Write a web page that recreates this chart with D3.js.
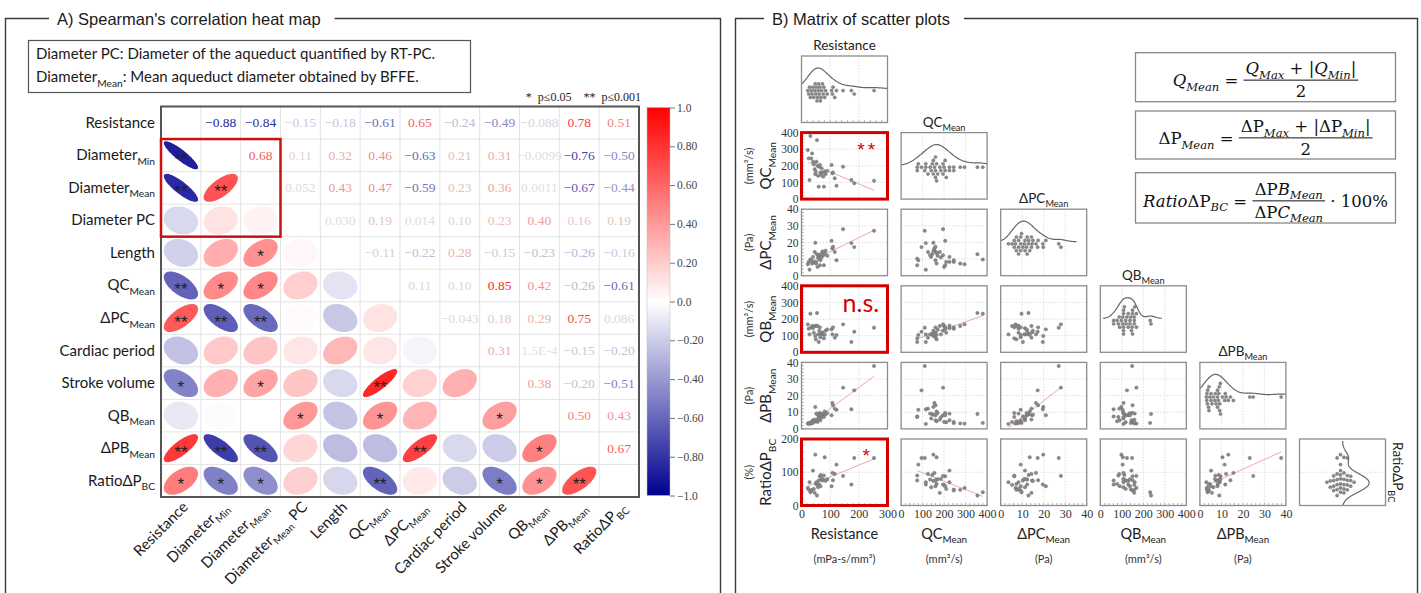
<!DOCTYPE html>
<html>
<head>
<meta charset="utf-8">
<script src="https://cdn.jsdelivr.net/npm/d3@7/dist/d3.min.js"></script>
<style>
  html, body { margin: 0; padding: 0; background: #fff; }
  svg { display: block; }
</style>
</head>
<body>
<svg id="fig" width="1421" height="593"></svg>
<script>
// ===================== Correlation heat map data =====================
// label parts: [main text, subscript, trailing text]
const heatRowLabels = [
  ["Resistance"], ["Diameter", "Min"], ["Diameter", "Mean"], ["Diameter PC"], ["Length"],
  ["QC", "Mean"], ["ΔPC", "Mean"], ["Cardiac period"], ["Stroke volume"],
  ["QB", "Mean"], ["ΔPB", "Mean"], ["RatioΔP", "BC"]
];
const heatColLabels = [
  ["Resistance"], ["Diameter", "Min"], ["Diameter", "Mean"], ["Diameter", "Mean", " PC"], ["Length"],
  ["QC", "Mean"], ["ΔPC", "Mean"], ["Cardiac period"], ["Stroke volume"],
  ["QB", "Mean"], ["ΔPB", "Mean"], ["RatioΔP", "BC"]
];
// Spearman's rho, upper triangle: row i holds columns i+1 … 11
const rhoUpper = [
  [-0.88, -0.84, -0.15, -0.18, -0.61, 0.65, -0.24, -0.49, -0.088, 0.78, 0.51],
  [0.68, 0.11, 0.32, 0.46, -0.63, 0.21, 0.31, -0.0099, -0.76, -0.50],
  [0.052, 0.43, 0.47, -0.59, 0.23, 0.36, 0.0011, -0.67, -0.44],
  [0.030, 0.19, 0.014, 0.10, 0.23, 0.40, 0.16, 0.19],
  [-0.11, -0.22, 0.28, -0.15, -0.23, -0.26, -0.16],
  [0.11, 0.10, 0.85, 0.42, -0.26, -0.61],
  [-0.043, 0.18, 0.29, 0.75, 0.086],
  [0.31, 1.5e-4, -0.15, -0.20],
  [0.38, -0.20, -0.51],
  [0.50, 0.43],
  [0.67]
];
// significance marks, lower triangle: row i holds columns 0 … i-1
const sigLower = [
  [],
  ["**"],
  ["**", "**"],
  ["", "", ""],
  ["", "", "*", ""],
  ["**", "*", "*", "", ""],
  ["**", "**", "**", "", "", ""],
  ["", "", "", "", "", "", ""],
  ["*", "", "*", "", "", "**", "", ""],
  ["", "", "", "*", "", "*", "", "", "*"],
  ["**", "**", "**", "", "", "", "**", "", "", "*"],
  ["*", "*", "*", "", "", "**", "", "", "*", "*", "**"]
];
const colorbarTicks = [1, 0.8, 0.6, 0.4, 0.2, 0, -0.2, -0.4, -0.6, -0.8, -1];

// ===================== Scatter matrix data (one entry per subject) =====================
const resistance = [22, 25, 28, 31, 34, 37, 40, 43, 46, 48, 50, 52, 54, 56, 58, 60, 62, 64, 66, 68,
  70, 73, 76, 78, 81, 84, 90, 105, 108, 110, 116, 122, 145, 174, 184, 253];
const qcMean = [295, 245, 115, 380, 245, 275, 225, 210, 180, 150, 165, 225, 355, 200, 140, 75, 195, 205, 160, 145,
  185, 160, 135, 75, 165, 150, 170, 205, 155, 160, 125, 80, 195, 115, 95, 110];
const dpcMean = [6.9, 8.3, 3.6, 9.7, 9.3, 7.3, 11.3, 8.3, 14.3, 19.8, 7.3, 8.3, 12.9, 5.3, 11.3, 10.3, 12.3, 6.3, 9.3, 13.0,
  11.0, 14.6, 12.3, 6.3, 13.5, 15.0, 12.0, 21.0, 16.4, 17.4, 14.3, 9.3, 28.0, 19.6, 17.2, 27.0];
const qbMean = [168, 142, 108, 232, 150, 158, 145, 118, 158, 98, 78, 160, 236, 158, 108, 62, 130, 150, 90, 112,
  108, 120, 108, 84, 105, 130, 138, 138, 108, 150, 88, 104, 168, 62, 124, 148];
const dpbMean = [3.2, 3.5, 3.0, 3.6, 4.2, 3.3, 5.2, 4.0, 5.6, 13.2, 4.6, 9.2, 9.0, 4.2, 6.3, 7.5, 8.2, 9.6, 5.2, 8.8,
  7.0, 8.2, 9.2, 7.2, 10.5, 8.6, 9.5, 8.2, 15.6, 14.2, 12.2, 11.5, 24.8, 11.8, 23.2, 37.8];
const ratioDpBC = [53, 48, 70, 40, 45, 47, 105, 50, 38, 153, 65, 70, 30, 62, 55, 75, 63, 88, 58, 92,
  80, 75, 78, 90, 145, 74, 79, 58, 98, 76, 95, 123, 89, 63, 143, 143];

const smSeries = [resistance, qcMean, dpcMean, qbMean, dpbMean, ratioDpBC];
const smLabels = [["Resistance"], ["QC", "Mean"], ["ΔPC", "Mean"], ["QB", "Mean"], ["ΔPB", "Mean"], ["RatioΔP", "BC"]];
const smUnits = ["(mPa-s/mm³)", "(mm³/s)", "(Pa)", "(mm³/s)", "(Pa)", "(%)"];
const smDomains = [[0, 300], [0, 400], [0, 40], [0, 400], [0, 40], [0, 200]];
const smTicks = [[0, 100, 200, 300], [0, 100, 200, 300, 400], [0, 10, 20, 30, 40],
  [0, 100, 200, 300, 400], [0, 10, 20, 30, 40], [0, 100, 200]];
const fitPairs = [[1, 0], [2, 0], [3, 1], [4, 0], [4, 2], [5, 0], [5, 1], [5, 4]];
const highlightPanels = [[1, 0], [3, 0], [5, 0]];
const panelNotes = [["**", 1, 0], ["n.s.", 3, 0], ["*", 5, 0]];

// ===================== helpers =====================
const svg = d3.select("#fig");
const SANS = "Lato, 'Open Sans', sans-serif";
const SERIF = "'Liberation Serif', 'DejaVu Serif', serif";
const MATH = "'DejaVu Serif', 'Liberation Serif', serif";
const ARIAL = "'Liberation Sans', Arial, sans-serif";

function addRich(textSel, parts, size) {
  const sub = size * 0.68, shift = size * 0.3;
  textSel.append("tspan").text(parts[0]);
  if (parts[1]) textSel.append("tspan").attr("font-size", sub).attr("dy", shift).text(parts[1]);
  if (parts[2]) textSel.append("tspan").attr("font-size", size).attr("dy", -shift).text(parts[2]);
  return textSel;
}

function frame(x0, x1, y, tx, title) {
  const t = svg.append("text").attr("x", tx).attr("y", y + 6)
    .attr("font-family", ARIAL).attr("font-size", 16.5).attr("fill", "#1a1a1a").text(title);
  const bb = t.node().getBBox();
  svg.append("path")
    .attr("d", `M${bb.x - 8},${y}H${x0}V600M${bb.x + bb.width + 14},${y}H${x1}V600`)
    .attr("fill", "none").attr("stroke", "#3a3a3a").attr("stroke-width", 1.4);
}
frame(5.5, 720.5, 18.5, 57, "A) Spearman's correlation heat map");
frame(735.5, 1417.5, 18.5, 772, "B) Matrix of scatter plots");

// ===================== A) heat map =====================
svg.append("rect").attr("x", 28.5).attr("y", 40.5).attr("width", 442).attr("height", 52)
  .attr("fill", "none").attr("stroke", "#555").attr("stroke-width", 1.2);
svg.append("text").attr("x", 36).attr("y", 59).attr("font-family", SANS).attr("font-size", 15)
  .attr("fill", "#1a1a1a").text("Diameter PC: Diameter of the aqueduct quantified by RT-PC.");
addRich(svg.append("text").attr("x", 36).attr("y", 82).attr("font-family", SANS).attr("font-size", 15)
  .attr("fill", "#1a1a1a"), ["Diameter", "Mean", ": Mean aqueduct diameter obtained by BFFE."], 15);

const nVar = heatRowLabels.length;
const rho = d3.range(nVar).map(i => d3.range(nVar).map(j =>
  i === j ? 1 : (i < j ? rhoUpper[i][j - i - 1] : rhoUpper[j][i - j - 1])));

const hx = d3.scaleBand().domain(d3.range(nVar)).range([161, 639]);
const hy = d3.scaleBand().domain(d3.range(nVar)).range([106.5, 497]);
const cw = hx.bandwidth(), ch = hy.bandwidth();
const rhoColor = d3.scaleLinear().domain([-1, 0, 1]).range(["#00008f", "#ffffff", "#ff0000"]);
const textColor = r => d3.interpolateRgb(rhoColor(r), "#a6a6a6")(0.35 * (1 - Math.abs(r)));
const fmtRho = v => Math.abs(v) < 0.001 ? v.toExponential(1).toUpperCase() : d3.format(".2r")(v);

const heat = svg.append("g");
// cell grid
heat.append("g").selectAll("line.v").data(d3.range(1, nVar)).join("line")
  .attr("x1", d => hx(d)).attr("x2", d => hx(d)).attr("y1", hy(0)).attr("y2", hy(nVar - 1) + ch)
  .attr("stroke", "#e3e3e3").attr("stroke-width", 1);
heat.append("g").selectAll("line.h").data(d3.range(1, nVar)).join("line")
  .attr("y1", d => hy(d)).attr("y2", d => hy(d)).attr("x1", hx(0)).attr("x2", hx(nVar - 1) + cw)
  .attr("stroke", "#e3e3e3").attr("stroke-width", 1);

const cells = [];
for (let i = 0; i < nVar; i++) for (let j = 0; j < nVar; j++) if (i !== j) cells.push({ i, j, r: rho[i][j] });

// upper triangle: coefficient values
heat.append("g").selectAll("text").data(cells.filter(c => c.i < c.j)).join("text")
  .attr("x", c => hx(c.j) + cw / 2).attr("y", c => hy(c.i) + ch / 2 + 4.5)
  .attr("text-anchor", "middle").attr("font-family", SERIF).attr("font-size", 13.5)
  .attr("fill", c => textColor(c.r)).text(c => fmtRho(c.r));

// lower triangle: ellipses
const ellipseLine = d3.line().curve(d3.curveLinearClosed);
function ellipsePoints(r, cx, cy, rx, ry) {
  const d = Math.acos(Math.max(-1, Math.min(1, r)));
  return d3.range(80).map(k => {
    const t = k / 80 * 2 * Math.PI;
    return [cx + rx * Math.cos(t + d / 2), cy - ry * Math.cos(t - d / 2)];
  });
}
const lower = cells.filter(c => c.i > c.j);
heat.append("g").selectAll("path").data(lower).join("path")
  .attr("d", c => ellipseLine(ellipsePoints(c.r, hx(c.j) + cw / 2, hy(c.i) + ch / 2, cw * 0.43, ch * 0.43)))
  .attr("fill", c => rhoColor(c.r));
heat.append("g").selectAll("text").data(lower.filter(c => sigLower[c.i][c.j])).join("text")
  .attr("x", c => hx(c.j) + cw / 2).attr("y", c => hy(c.i) + ch / 2 + 9.5)
  .attr("text-anchor", "middle").attr("font-family", ARIAL).attr("font-size", 17)
  .attr("fill", "#222").text(c => sigLower[c.i][c.j]);

// outer border and highlighted block
heat.append("rect").attr("x", hx(0)).attr("y", hy(0)).attr("width", cw * nVar).attr("height", ch * nVar)
  .attr("fill", "none").attr("stroke", "#555").attr("stroke-width", 2);
heat.append("rect").attr("x", hx(0)).attr("y", hy(1)).attr("width", cw * 3).attr("height", ch * 3)
  .attr("fill", "none").attr("stroke", "#cc1111").attr("stroke-width", 2.5);

// row labels
heat.append("g").selectAll("text").data(heatRowLabels).join("text")
  .attr("x", 155).attr("y", (d, i) => hy(i) + ch / 2 + 5)
  .attr("text-anchor", "end").attr("font-family", SANS).attr("font-size", 15).attr("fill", "#1a1a1a")
  .each(function (d) { addRich(d3.select(this), d, 15); });
// column labels
heat.append("g").selectAll("text").data(heatColLabels).join("text")
  .attr("transform", (d, i) => `translate(${hx(i) + cw / 2 + 8},${508}) rotate(-45)`)
  .attr("text-anchor", "end").attr("font-family", SANS).attr("font-size", 15).attr("fill", "#1a1a1a")
  .each(function (d) { addRich(d3.select(this), d, 15); });

// significance legend
svg.append("text").attr("x", 641).attr("y", 101).attr("text-anchor", "end")
  .attr("font-family", SERIF).attr("font-size", 12).attr("fill", "#222").style("white-space", "pre")
  .text("*  p≤0.05    **  p≤0.001");

// colour bar
const cbY = d3.scaleLinear().domain([-1, 1]).range([495.5, 107.5]);
const grad = svg.append("defs").append("linearGradient").attr("id", "rhoGrad")
  .attr("x1", 0).attr("y1", 1).attr("x2", 0).attr("y2", 0);
grad.selectAll("stop").data(d3.range(-1, 1.0001, 0.1)).join("stop")
  .attr("offset", d => (d + 1) / 2).attr("stop-color", d => rhoColor(d));
svg.append("rect").attr("x", 647).attr("y", cbY(1)).attr("width", 23).attr("height", cbY(-1) - cbY(1))
  .attr("fill", "url(#rhoGrad)").attr("stroke", "#bbb").attr("stroke-width", 0.5);
const cbAxis = svg.append("g").attr("transform", "translate(670,0)")
  .call(d3.axisRight(cbY).tickValues(colorbarTicks).tickSize(5).tickPadding(2)
    .tickFormat(v => (v === 0 || Math.abs(v) === 1) ? d3.format(".1f")(v) : d3.format(".2f")(v)));
cbAxis.select(".domain").remove();
cbAxis.selectAll("line").attr("stroke", "#777");
cbAxis.selectAll("text").attr("font-family", SERIF).attr("font-size", 11.5).attr("fill", "#444");

// ===================== B) scatter matrix =====================
const P = { x0: 801.5, dx: 99.6, y0: 56, dy: 76.6, w: 86, h: 66.5 };
const nSm = smSeries.length;
const isHighlighted = (i, j) => highlightPanels.some(p => p[0] === i && p[1] === j);
const hasFit = (i, j) => fitPairs.some(p => p[0] === i && p[1] === j);

function swarm(values, pos, step) {
  const pts = values.map(v => ({ v, p: pos(v) })).sort((a, b) => a.p - b.p);
  const placed = [];
  pts.forEach(pt => {
    for (let k = 0; k < 200; k++) {
      const off = k === 0 ? 0 : (k % 2 === 1 ? 1 : -1) * Math.ceil(k / 2) * step;
      const clash = placed.some(q => (q.p - pt.p) ** 2 + (q.off - off) ** 2 < step * step * 0.98);
      if (!clash) { pt.off = off; placed.push(pt); break; }
    }
  });
  return placed;
}
function kde(values, bw, grid) {
  return grid.map(x => [x, d3.mean(values, v => Math.exp(-0.5 * ((x - v) / bw) ** 2)) / bw]);
}

for (let i = 0; i < nSm; i++) {
  for (let j = 0; j <= i; j++) {
    const left = P.x0 + j * P.dx, top = P.y0 + i * P.dy;
    const x = d3.scaleLinear().domain(smDomains[j]).range([left, left + P.w]);
    const y = d3.scaleLinear().domain(smDomains[i]).range([top + P.h, top]);
    const g = svg.append("g");
    const grid = g.append("g").attr("stroke", "#d6d6d6").attr("stroke-width", 0.8).attr("stroke-dasharray", "1.5,1.5");
    if (i !== j || i < nSm - 1) {
      grid.selectAll("line.gx").data(smTicks[j].slice(1, -1)).join("line")
        .attr("x1", d => x(d)).attr("x2", d => x(d)).attr("y1", top).attr("y2", top + P.h);
    }
    if (i !== j || i === nSm - 1) {
      grid.selectAll("line.gy").data(smTicks[i].slice(1, -1)).join("line")
        .attr("y1", d => y(d)).attr("y2", d => y(d)).attr("x1", left).attr("x2", left + P.w);
    }

    if (i === j) {
      const vals = smSeries[i];
      const bw = 1.06 * d3.deviation(vals) * Math.pow(vals.length, -0.2);
      const [d0, d1] = smDomains[i];
      const lo = Math.max(d0, d3.min(vals) - 2.5 * bw), hi = Math.min(d1, d3.max(vals) + 2.5 * bw);
      const dens = kde(vals, bw, d3.range(0, 101).map(k => lo + (hi - lo) * k / 100));
      const dMax = d3.max(dens, d => d[1]);
      if (i < nSm - 1) {
        const base = top + P.h * 0.49;
        const hs = d3.scaleLinear().domain([0, dMax]).range([base, base - P.h * 0.31]);
        g.append("path").attr("d", d3.line().x(d => x(d[0])).y(d => hs(d[1]))(dens))
          .attr("fill", "none").attr("stroke", "#666").attr("stroke-width", 1.2);
        g.selectAll("circle").data(swarm(vals, x, 3.4)).join("circle")
          .attr("cx", d => d.p).attr("cy", d => base + 2 + d.off).attr("r", 1.6)
          .attr("fill", "#8a8a8a").attr("stroke", "#666").attr("stroke-width", 0.4);
      } else {
        const base = left + P.w * 0.5;
        const ws = d3.scaleLinear().domain([0, dMax]).range([base, base + P.w * 0.31]);
        g.append("path").attr("d", d3.line().x(d => ws(d[1])).y(d => y(d[0]))(dens))
          .attr("fill", "none").attr("stroke", "#666").attr("stroke-width", 1.2);
        g.selectAll("circle").data(swarm(vals, y, 3.4)).join("circle")
          .attr("cy", d => d.p).attr("cx", d => base - 2 + d.off).attr("r", 1.6)
          .attr("fill", "#8a8a8a").attr("stroke", "#666").attr("stroke-width", 0.4);
      }
    } else {
      const xs = smSeries[j], ys = smSeries[i];
      if (hasFit(i, j)) {
        const mx = d3.mean(xs), my = d3.mean(ys);
        const slope = d3.sum(xs, (v, k) => (v - mx) * (ys[k] - my)) / d3.sum(xs, v => (v - mx) ** 2);
        const ends = d3.extent(xs);
        g.append("path")
          .attr("d", d3.line()(ends.map(v => [x(v), y(my + slope * (v - mx))])))
          .attr("stroke", "#f0a8a8").attr("stroke-width", 1).attr("fill", "none");
      }
      g.selectAll("circle").data(xs.map((v, k) => [v, ys[k]])).join("circle")
        .attr("cx", d => x(d[0])).attr("cy", d => y(d[1])).attr("r", 1.7)
        .attr("fill", "#8a8a8a").attr("stroke", "#666").attr("stroke-width", 0.4);
    }

    // minor ruler ticks on outer edges
    const minorX = (i === nSm - 1 || (i === 0 && j === 0)) && !(i === nSm - 1 && j === nSm - 1);
    if (minorX) {
      const st = (smTicks[j][1] - smTicks[j][0]) / 5;
      g.append("g").selectAll("line").data(d3.range(smDomains[j][0], smDomains[j][1] + st / 2, st)).join("line")
        .attr("x1", d => x(d)).attr("x2", d => x(d)).attr("y1", top + P.h).attr("y2", top + P.h - 2.5)
        .attr("stroke", "#999").attr("stroke-width", 0.7);
    }
    if (j === 0 && i > 0) {
      const st = (smTicks[i][1] - smTicks[i][0]) / 5;
      g.append("g").selectAll("line").data(d3.range(smDomains[i][0], smDomains[i][1] + st / 2, st)).join("line")
        .attr("y1", d => y(d)).attr("y2", d => y(d)).attr("x1", left).attr("x2", left + 2.5)
        .attr("stroke", "#999").attr("stroke-width", 0.7);
    }

    g.append("rect").attr("x", left).attr("y", top).attr("width", P.w).attr("height", P.h)
      .attr("fill", "none")
      .attr("stroke", isHighlighted(i, j) ? "#d40000" : "#8c8c8c")
      .attr("stroke-width", isHighlighted(i, j) ? 3 : 1.3);

    // axes on the outer side
    if (j === 0 && i > 0) {
      const ax = svg.append("g").attr("transform", `translate(${left},0)`)
        .call(d3.axisLeft(y).tickValues(smTicks[i]).tickSize(0).tickPadding(3));
      ax.select(".domain").remove();
      ax.selectAll("text").attr("font-family", SERIF).attr("font-size", 11.5).attr("fill", "#333");
    }
    if (i === nSm - 1 && j < nSm - 1) {
      const ax = svg.append("g").attr("transform", `translate(0,${top + P.h})`)
        .call(d3.axisBottom(x).tickValues(smTicks[j]).tickSize(0).tickPadding(4));
      ax.select(".domain").remove();
      ax.selectAll("text").attr("font-family", SERIF).attr("font-size", 12).attr("fill", "#333");
    }
  }
}

// diagonal titles
for (let i = 0; i < nSm; i++) {
  const left = P.x0 + i * P.dx, top = P.y0 + i * P.dy;
  const t = svg.append("text").attr("font-family", SANS).attr("font-size", 13.5).attr("fill", "#222")
    .attr("text-anchor", "middle");
  if (i < nSm - 1) t.attr("x", left + P.w / 2).attr("y", top - 6);
  else t.attr("transform", `translate(${left + P.w + 7},${top + P.h / 2}) rotate(90)`);
  addRich(t, smLabels[i], 13.5);
}
// row titles (left) and column titles (bottom)
for (let i = 1; i < nSm; i++) {
  const cy = P.y0 + i * P.dy + P.h / 2;
  addRich(svg.append("text").attr("transform", `translate(771,${cy}) rotate(-90)`)
    .attr("text-anchor", "middle").attr("font-family", SANS).attr("font-size", 15).attr("fill", "#222"),
    smLabels[i], 15);
  svg.append("text").attr("transform", `translate(753,${cy}) rotate(-90)`)
    .attr("text-anchor", "middle").attr("font-family", SANS).attr("font-size", 11).attr("fill", "#333")
    .text(smUnits[i]);
}
for (let j = 0; j < nSm - 1; j++) {
  const cx = P.x0 + j * P.dx + P.w / 2;
  addRich(svg.append("text").attr("x", cx).attr("y", 539).attr("text-anchor", "middle")
    .attr("font-family", SANS).attr("font-size", 14.5).attr("fill", "#222"), smLabels[j], 14.5);
  svg.append("text").attr("x", cx).attr("y", 563).attr("text-anchor", "middle")
    .attr("font-family", SANS).attr("font-size", 11).attr("fill", "#333").text(smUnits[j]);
}
// significance notes on highlighted panels
panelNotes.forEach(([txt, i, j]) => {
  const left = P.x0 + j * P.dx, top = P.y0 + i * P.dy;
  const big = txt === "n.s.";
  svg.append("text")
    .attr("x", left + P.w * (big ? 0.69 : 0.77)).attr("y", top + P.h * (big ? 0.27 : 0.2) + (big ? 8 : 10))
    .attr("text-anchor", "middle").attr("fill", "#d40000")
    .attr("font-family", big ? SANS : ARIAL).attr("font-size", big ? 25 : 19)
    .attr("letter-spacing", big ? 0 : 3).text(txt);
});

// ===================== definition boxes =====================
const formulas = [
  { lhs: [["Q", "i"], ["Mean", "s"], [" = ", "n"]],
    num: [["Q", "i"], ["Max", "s"], [" + |", "n"], ["Q", "i"], ["Min", "s"], ["|", "n"]],
    den: [["2", "n"]], tail: [] },
  { lhs: [["ΔP", "n"], ["Mean", "s"], [" = ", "n"]],
    num: [["ΔP", "n"], ["Max", "s"], [" + |", "n"], ["ΔP", "n"], ["Min", "s"], ["|", "n"]],
    den: [["2", "n"]], tail: [] },
  { lhs: [["Ratio", "i"], ["ΔP", "n"], ["BC", "s"], [" = ", "n"]],
    num: [["ΔP", "n"], ["B", "i"], ["Mean", "s"]],
    den: [["ΔP", "n"], ["C", "i"], ["Mean", "s"]], tail: [[" · 100%", "n"]] }
];
const boxTops = [52.7, 111, 172.7], boxHeights = [49, 48, 50.3];
const FS = 16.5;
function mathText(x, y, tokens, anchor) {
  const t = svg.append("text").attr("x", x).attr("y", y).attr("text-anchor", anchor)
    .attr("font-family", MATH).attr("font-size", FS).attr("fill", "#111").style("white-space", "pre");
  let low = false;
  tokens.forEach(([s, k]) => {
    const sp = t.append("tspan").text(s);
    if (k === "s") {
      sp.attr("font-size", FS * 0.7).attr("font-style", "italic");
      if (!low) { sp.attr("dy", FS * 0.28); low = true; }
    } else {
      if (k === "i") sp.attr("font-style", "italic");
      if (low) { sp.attr("dy", -FS * 0.28); low = false; }
    }
  });
  return t;
}
formulas.forEach((f, k) => {
  const bx = 1135.5, bw = 260, top = boxTops[k], bh = boxHeights[k];
  svg.append("rect").attr("x", bx).attr("y", top).attr("width", bw).attr("height", bh)
    .attr("fill", "none").attr("stroke", "#888").attr("stroke-width", 1.3);
  const barY = top + bh * 0.56;
  const l = mathText(0, barY + 6, f.lhs, "start");
  const n = mathText(0, barY - 6, f.num, "middle");
  const d = mathText(0, barY + 17, f.den, "middle");
  const tl = f.tail.length ? mathText(0, barY + 6, f.tail, "start") : null;
  const wl = l.node().getComputedTextLength();
  const wf = Math.max(n.node().getComputedTextLength(), d.node().getComputedTextLength()) + 4;
  const wt = tl ? tl.node().getComputedTextLength() : 0;
  const x0 = bx + bw / 2 - (wl + wf + wt) / 2;
  l.attr("x", x0);
  n.attr("x", x0 + wl + wf / 2);
  d.attr("x", x0 + wl + wf / 2);
  if (tl) tl.attr("x", x0 + wl + wf);
  svg.append("line").attr("x1", x0 + wl).attr("x2", x0 + wl + wf).attr("y1", barY).attr("y2", barY)
    .attr("stroke", "#111").attr("stroke-width", 1);
});
</script>
</body>
</html>
